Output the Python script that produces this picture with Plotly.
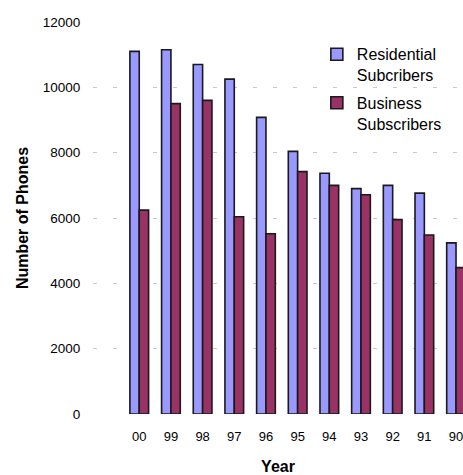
import plotly.graph_objects as go

years = ["00", "99", "98", "97", "96", "95", "94", "93", "92", "91", "90"]
residential = [11100, 11150, 10700, 10250, 9080, 8040, 7370, 6900, 7000, 6760, 5240]
business = [6240, 9500, 9600, 6040, 5520, 7420, 7000, 6710, 5950, 5480, 4480]

font_name = "Liberation Sans, Arial, sans-serif"

fig = go.Figure()

# Residential bars
fig.add_trace(go.Bar(
    x=years,
    y=residential,
    name="Residential<br>Subcribers",
    marker=dict(color="#9999FF", line=dict(color="#1a1a1a", width=1.6)),
    legendgroup="res"
))

# Business bars
fig.add_trace(go.Bar(
    x=years,
    y=business,
    name="Business<br>Subscribers",
    marker=dict(color="#993366", line=dict(color="#1a1a1a", width=1.6)),
    legendgroup="bus"
))

fig.update_layout(
    width=463,
    height=475,
    margin=dict(l=93, r=0, t=22, b=61, autoexpand=False),
    paper_bgcolor="white",
    plot_bgcolor="white",
    barmode="group",
    bargap=0.41,
    bargroupgap=0,
    font=dict(family=font_name, color="black", size=13),
    legend=dict(
        x=0.605, y=0.961,
        xanchor="left", yanchor="top",
        font=dict(size=16),
        valign="top",
        tracegroupgap=4,
        bgcolor="rgba(0,0,0,0)"
    ),
    xaxis=dict(
        type="category",
        range=[-1.46, 10.22],
        automargin=False,
        showgrid=False,
        showline=False,
        zeroline=False,
        ticks="outside",
        ticklen=10,
        tickcolor="rgba(0,0,0,0)",
        title=dict(text="<b>Year</b>", font=dict(size=16), standoff=21)
    ),
    yaxis=dict(
        range=[0, 12000],
        dtick=2000,
        tickformat="d",
        automargin=False,
        showgrid=True,
        gridcolor="#c8c8c8",
        gridwidth=1,
        griddash="4px,16px",
        zeroline=False,
        showline=False,
        ticks="outside",
        ticklen=9,
        tickcolor="rgba(0,0,0,0)",
        tickfont=dict(size=13.5),
        title=dict(text="<b>Number of Phones</b>", font=dict(size=16), standoff=10)
    )
)

# page body has an 8px default margin, drop it so the chart sits at the corner
fig.write_html("out.html", config={"displayModeBar": False},
               post_script="document.body.style.margin='0';")
